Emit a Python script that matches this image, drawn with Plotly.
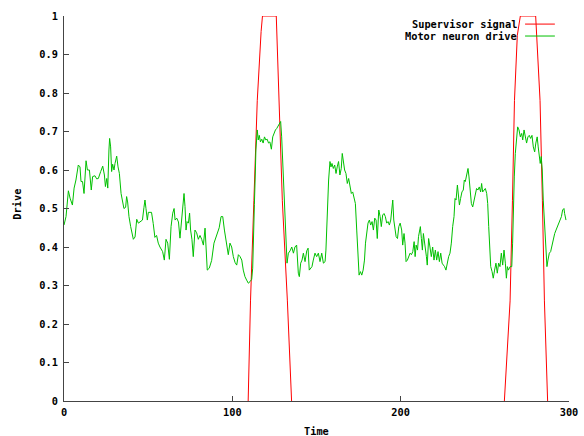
import plotly.graph_objects as go

# Supervisor signal: two ramped pulses (time, level); None separates the pulses
signal_t = [109.4, 110.8, 112.8, 114.8, 117.1, 117.9, 126.1, 127.7, 129.7, 132.7, 135.2,
            None,
            261.6, 265.0, 266.4, 267.6, 269.3, 271.1, 280.2, 282.8, 284.2, 285.4, 287.3]
signal_v = [0, 0.26, 0.52, 0.78, 0.96, 1, 1, 0.78, 0.52, 0.26, 0,
            None,
            0, 0.26, 0.52, 0.78, 0.95, 1, 1, 0.78, 0.52, 0.26, 0]

# Motor neuron drive
drive_t = [0, 1.2, 2.6, 3.6, 5, 6, 7.1, 8.5, 9.5, 10.1, 11, 11.9, 13.1, 13.9, 15.1, 16.2, 17,
           18.4, 19.4, 20.4, 21.8, 23, 24, 24.6, 25.4, 26, 26.7, 27.1, 27.7, 28.3, 28.9, 29.7,
           30.3, 31.3, 32.1, 32.9, 33.9, 34.7, 35.6, 36.6, 37.2, 37.8, 38.6, 39.6, 41.2, 42.2,
           43.2, 44.2, 45.6, 46.6, 47.5, 48.1, 48.7, 49.5, 50.1, 51, 52, 53, 54, 55, 56, 57,
           58.6, 59.6, 60.6, 61.6, 62.6, 63.6, 64.6, 65.4, 66, 67, 68, 68.9, 69.9, 70.5, 71.3,
           71.9, 72.5, 73.1, 73.9, 74.6, 75.2, 76, 76.8, 77.8, 78.8, 79.8, 80.8, 81.8, 82.8,
           83.8, 84.4, 85.1, 86.3, 87.7, 89.1, 90.6, 92.2, 93.3, 94.3, 95.3, 96.6, 97.6, 98.6,
           99.6, 100.6, 101.6, 102.6, 103.6, 104.6, 105.6, 106.5, 107.5, 108.5, 109.5, 110.5,
           111.5, 112.1, 112.5, 113.1, 113.7, 114, 114.8, 115.4, 116, 116.7, 117.5, 118.3,
           119.1, 119.9, 120.7, 121.5, 122.3, 123.2, 124, 124.8, 125.6, 126.4, 127.2, 128,
           128.7, 129.3, 129.9, 130.5, 131.3, 131.9, 132.5, 133.3, 134.3, 135.3, 136.3, 137.2,
           138.2, 139.2, 139.8, 140.6, 141.4, 142.2, 143.2, 144.2, 145, 145.7, 146.5, 147.3,
           148.1, 149.1, 150.1, 151.1, 152.1, 153.1, 154.1, 155.1, 155.6, 156.4, 157.2, 158,
           158.6, 159.2, 160, 160.8, 161.6, 162.3, 163.1, 163.9, 164.7, 165.3, 165.9, 166.7,
           167.5, 168.3, 169.1, 169.9, 170.7, 171.5, 172.3, 173.1, 173.9, 174.7, 175.3, 176.1,
           176.9, 177.7, 178.5, 179.1, 179.8, 180.6, 181.4, 182.2, 183, 183.8, 184.6, 185.4,
           186.1, 187, 187.8, 188.5, 189.3, 190.1, 190.9, 191.7, 192.5, 193.3, 194.1, 194.9,
           195.3, 195.9, 196.5, 197.3, 198.1, 198.9, 199.7, 200.6, 201.2, 202, 202.6, 203.2,
           204, 204.8, 205.6, 206.4, 207.2, 208, 208.6, 209.2, 210, 210.6, 211.2, 211.7, 212.3,
           212.9, 213.5, 214.1, 214.7, 215.3, 215.8, 216.6, 217.4, 218.2, 219, 219.8, 220.6,
           221.4, 222.2, 223, 223.8, 224.6, 225.4, 226.1, 226.9, 227.7, 228.5, 229.3, 230.1,
           230.9, 231.7, 232.3, 232.9, 233.7, 234.3, 234.9, 235.6, 236.4, 237.2, 237.8, 238.4,
           239.2, 240, 240.6, 241.2, 242, 242.8, 243.6, 244.4, 245.1, 245.9, 246.7, 247.5,
           248.1, 248.7, 249.5, 250.3, 251.1, 251.7, 252.3, 252.9, 253.5, 254.3, 255, 255.8,
           256.6, 257.4, 258.2, 259, 259.8, 260.6, 261.4, 262.2, 262.8, 263.4, 264, 265, 266,
           266.5, 266.9, 267.5, 268.1, 268.7, 269.5, 270.3, 271.1, 271.9, 272.5, 273.3, 274,
           274.8, 275.6, 276.4, 277.2, 278, 278.8, 279.6, 280.3, 281.1, 281.7, 282.3, 282.9,
           283.5, 284.1, 284.7, 285.5, 286.3, 286.9, 287.5, 288.3, 289.1, 289.9, 290.7, 291.5,
           292.3, 293.1, 293.9, 294.7, 295.5, 296.2, 297, 297.4, 298.2]
drive_v = [0.457, 0.479, 0.546, 0.527, 0.509, 0.553, 0.574, 0.613, 0.608, 0.57, 0.57, 0.539,
           0.624, 0.60, 0.60, 0.548, 0.583, 0.585, 0.577, 0.578, 0.596, 0.61, 0.587, 0.557,
           0.578, 0.553, 0.652, 0.682, 0.66, 0.596, 0.615, 0.60, 0.617, 0.636, 0.608, 0.591,
           0.539, 0.515, 0.50, 0.503, 0.531, 0.517, 0.479, 0.453, 0.42, 0.426, 0.472, 0.462,
           0.466, 0.47, 0.503, 0.522, 0.50, 0.47, 0.49, 0.49, 0.49, 0.461, 0.425, 0.43, 0.41,
           0.40, 0.388, 0.366, 0.42, 0.41, 0.368, 0.453, 0.488, 0.50, 0.47, 0.475, 0.465,
           0.423, 0.48, 0.509, 0.539, 0.505, 0.444, 0.466, 0.462, 0.488, 0.444, 0.42, 0.375,
           0.444, 0.437, 0.42, 0.43, 0.42, 0.405, 0.449, 0.40, 0.34, 0.345, 0.365, 0.41, 0.43,
           0.45, 0.479, 0.479, 0.444, 0.40, 0.38, 0.41,
           0.40, 0.375, 0.36, 0.353, 0.38, 0.375, 0.366, 0.34, 0.323, 0.314, 0.306, 0.31,
           0.316, 0.345, 0.453, 0.51, 0.60, 0.652, 0.704, 0.678, 0.69, 0.673, 0.68, 0.67,
           0.686, 0.678, 0.68, 0.67, 0.673, 0.654, 0.686, 0.697, 0.704, 0.708, 0.714, 0.721,
           0.726, 0.686, 0.626, 0.539, 0.47, 0.41, 0.358, 0.384, 0.39, 0.40, 0.384, 0.40,
           0.405, 0.332, 0.323, 0.358, 0.366, 0.384, 0.362, 0.39, 0.397, 0.34, 0.345, 0.349,
           0.366, 0.384, 0.375, 0.384, 0.362, 0.384, 0.358, 0.362, 0.392, 0.496, 0.574, 0.622,
           0.608, 0.617, 0.604, 0.613, 0.591, 0.608, 0.622, 0.587, 0.604, 0.643, 0.626, 0.60,
           0.591, 0.565, 0.578, 0.556, 0.539, 0.543, 0.53, 0.513, 0.444, 0.358, 0.327, 0.336,
           0.327, 0.34, 0.366, 0.41, 0.444, 0.462, 0.47, 0.457, 0.466, 0.444, 0.475, 0.47,
           0.422, 0.496, 0.479, 0.453, 0.483, 0.487, 0.479, 0.462, 0.466, 0.457, 0.47, 0.496,
           0.522, 0.47, 0.444, 0.427, 0.422, 0.453, 0.462, 0.444, 0.405, 0.435, 0.41, 0.362,
           0.366, 0.375, 0.384, 0.38, 0.388, 0.414, 0.375, 0.405, 0.392, 0.427, 0.44, 0.453,
           0.422, 0.392, 0.435, 0.418, 0.40, 0.375, 0.353, 0.422, 0.40, 0.375, 0.40, 0.366,
           0.392, 0.366, 0.388, 0.362, 0.384, 0.358, 0.353, 0.349, 0.34, 0.358, 0.375, 0.384,
           0.41, 0.453, 0.479, 0.526, 0.522, 0.561, 0.53, 0.509, 0.526, 0.543, 0.548, 0.574,
           0.57, 0.591, 0.604, 0.582, 0.552, 0.513, 0.504, 0.522, 0.535, 0.552, 0.548, 0.556,
           0.543, 0.565, 0.543, 0.548, 0.552, 0.539, 0.513, 0.453, 0.375, 0.349, 0.336, 0.319,
           0.34, 0.358, 0.332, 0.358, 0.349, 0.384, 0.353, 0.392, 0.358, 0.319, 0.349, 0.34,
           0.349, 0.349, 0.41, 0.496, 0.582, 0.643, 0.678, 0.712, 0.704, 0.686, 0.695, 0.678,
           0.704, 0.69, 0.67, 0.686, 0.69, 0.682, 0.69, 0.66, 0.647, 0.67, 0.686, 0.66, 0.639,
           0.617, 0.635, 0.60, 0.522, 0.444, 0.384, 0.349, 0.366, 0.384, 0.388, 0.405, 0.427,
           0.435, 0.444, 0.453, 0.462, 0.47, 0.479, 0.496, 0.50, 0.487, 0.47]

series_names = ["Supervisor signal", "Motor neuron drive"]
series_colors = ["#ff0000", "#00c000"]

FONT = dict(family="DejaVu Sans Mono", size=10.3, color="#000000", weight="bold")
AXIS_COLOR = "#444444"

fig = go.Figure()
fig.add_trace(go.Scatter(x=signal_t, y=signal_v, mode="lines", name=series_names[0],
                         line=dict(color=series_colors[0], width=1), showlegend=False,
                         connectgaps=False))
fig.add_trace(go.Scatter(x=drive_t, y=drive_v, mode="lines", name=series_names[1],
                         line=dict(color=series_colors[1], width=1), showlegend=False))

# gnuplot-style key: right-aligned text followed by a line sample
key_rows = [0.979, 0.948]
for name, color, yk in zip(series_names, series_colors, key_rows):
    fig.add_annotation(x=0.901, y=yk, xref="paper", yref="paper", text=name,
                       showarrow=False, xanchor="right", yanchor="middle", font=FONT)
    fig.add_shape(type="line", xref="paper", yref="paper", x0=0.913, x1=0.972,
                  y0=yk, y1=yk, line=dict(color=color, width=1))

# axis titles
fig.add_annotation(x=0.5, y=0, xref="paper", yref="paper", text="Time", showarrow=False,
                   xanchor="center", yanchor="middle", yshift=-30, font=FONT)
fig.add_annotation(x=0, y=0.51, xref="paper", yref="paper", text="Drive", showarrow=False,
                   xanchor="center", yanchor="middle", xshift=-47, textangle=-90, font=FONT)

axis_common = dict(showgrid=False, zeroline=False, showline=True, linecolor=AXIS_COLOR,
                   linewidth=1, ticks="inside", ticklen=5, tickcolor=AXIS_COLOR,
                   tickfont=FONT, mirror=False, automargin=False)

fig.update_xaxes(range=[0, 300], dtick=100, tick0=0, ticklabelstandoff=2, **axis_common)
fig.update_yaxes(range=[0, 1], dtick=0.1, tick0=0, ticklabelstandoff=3, **axis_common)

fig.update_layout(width=584, height=436, margin=dict(l=64, r=15, t=16, b=35),
                  plot_bgcolor="white", paper_bgcolor="white", showlegend=False,
                  font=FONT)

fig.write_html("out.html")
